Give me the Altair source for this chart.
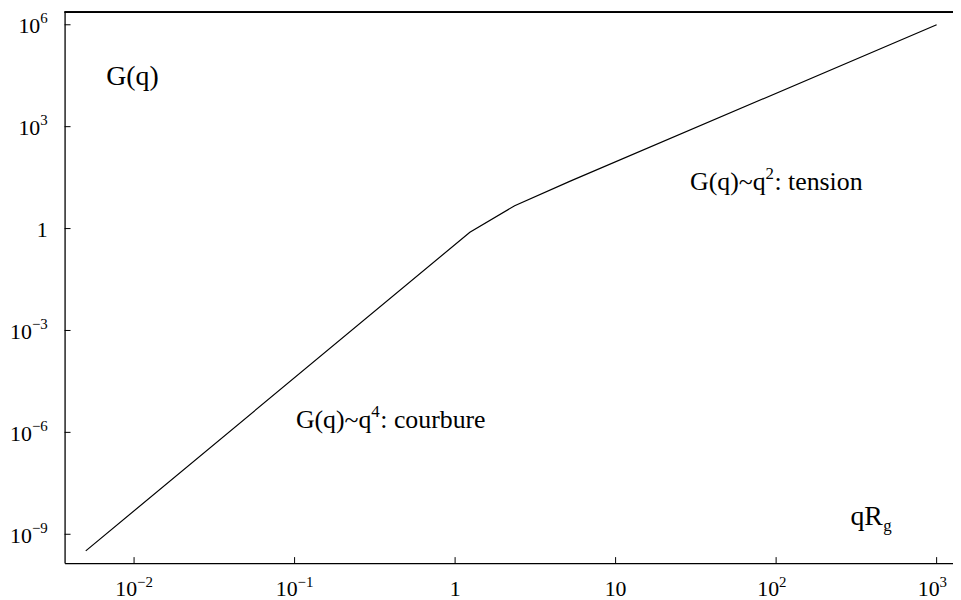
import altair as alt
import pandas as pd

# ---- data ----
q_vals = [0.005, 1.236, 2.35, 5.26, 1000.0]
G_vals = [3.24e-10, 0.78, 4.7, 25.3, 1.0e6]

x_ticks = [0.01, 0.1, 1, 10, 100, 1000]
x_tick_base = ["10", "10", "1", "10", "10", "10"]
x_tick_exp = ["−2", "−1", "", "", "2", "3"]

y_ticks = [1e6, 1e3, 1, 1e-3, 1e-6, 1e-9]
y_tick_base = ["10", "10", "1", "10", "10", "10"]
y_tick_exp = ["6", "3", "", "−3", "−6", "−9"]

label_q = [0.00671, 29.1, 0.1019, 290.6]
label_G = [17260.0, 13.8, 1.336e-6, 1.83e-9]
label_main = ["G(q)", "G(q)~q", "G(q)~q", "qR"]
label_sup = ["", "2", "4", ""]
label_rest = ["", ": tension", ": courbure", ""]
label_sub = ["", "", "", "g"]
label_size = [28, 26, 26, 28]

# ---- layout ----
W, H = 895, 555
FONT = "Liberation Serif"
xs = alt.Scale(type="log", domain=[0.003690, 1264.7], nice=False)
ys = alt.Scale(type="log", domain=[1.419e-10, 2.350e6], nice=False)
ax = alt.Axis(labels=False, ticks=False, grid=False, domain=True,
              domainColor="black", domainWidth=1.3, title=None)


def X(f="x"):
    return alt.X(f + ":Q", scale=xs, axis=ax)


def Y(f="y"):
    return alt.Y(f + ":Q", scale=ys, axis=ax)


curve = pd.DataFrame({"x": q_vals, "y": G_vals})
xt = pd.DataFrame({"x": x_ticks, "base": x_tick_base, "exp": x_tick_exp})
yt = pd.DataFrame({"y": y_ticks, "base": y_tick_base, "exp": y_tick_exp})
lab = pd.DataFrame({"x": label_q, "y": label_G, "main": label_main,
                    "sup": label_sup, "rest": label_rest, "sub": label_sub,
                    "fs": label_size})

line = alt.Chart(curve).mark_line(color="black", strokeWidth=1.2).encode(x=X(), y=Y())

xtick_marks = alt.Chart(xt).mark_rule(color="black", strokeWidth=1).encode(
    x=X(), y=alt.value(H), y2=alt.value(H - 6))
ytick_marks = alt.Chart(yt).mark_rule(color="black", strokeWidth=1).encode(
    y=Y(), x=alt.value(0), x2=alt.value(6))
top_border = alt.Chart(curve).mark_rule(color="black", strokeWidth=1.3).encode(
    x=alt.value(0), x2=alt.value(W), y=alt.value(0))

BASE_FS = 22
EXP_FS = 15

# x tick labels
xt_plain = xt[xt["exp"] == ""]
xt_exp = xt[xt["exp"] != ""]
xl_plain = alt.Chart(xt_plain).mark_text(font=FONT, fontSize=BASE_FS, align="center",
                                         baseline="alphabetic", color="black").encode(
    x=X(), y=alt.value(H + 33), text="base:N")
xl_base = alt.Chart(xt_exp).mark_text(font=FONT, fontSize=BASE_FS, align="right", dx=3,
                                      baseline="alphabetic", color="black").encode(
    x=X(), y=alt.value(H + 33), text="base:N")
xl_exp = alt.Chart(xt_exp).mark_text(font=FONT, fontSize=EXP_FS, align="left", dx=3,
                                     baseline="alphabetic", color="black").encode(
    x=X(), y=alt.value(H + 24), text="exp:N")

# y tick labels
yt_plain = yt[yt["exp"] == ""]
yt_pos = yt[(yt["exp"] != "") & (~yt["exp"].str.startswith("−"))]
yt_neg = yt[yt["exp"].str.startswith("−")]
yt_exp = yt[yt["exp"] != ""]
yl_plain = alt.Chart(yt_plain).mark_text(font=FONT, fontSize=BASE_FS, align="right", dx=-17, dy=8,
                                         baseline="alphabetic", color="black").encode(
    y=Y(), x=alt.value(0), text="base:N")
yl_pos = alt.Chart(yt_pos).mark_text(font=FONT, fontSize=BASE_FS, align="right", dx=-24.5, dy=8.5,
                                     baseline="alphabetic", color="black").encode(
    y=Y(), x=alt.value(0), text="base:N")
yl_neg = alt.Chart(yt_neg).mark_text(font=FONT, fontSize=BASE_FS, align="right", dx=-33, dy=8.5,
                                     baseline="alphabetic", color="black").encode(
    y=Y(), x=alt.value(0), text="base:N")
yl_exp = alt.Chart(yt_exp).mark_text(font=FONT, fontSize=EXP_FS, align="right", dx=-17, dy=-1.5,
                                     baseline="alphabetic", color="black").encode(
    y=Y(), x=alt.value(0), text="exp:N")

# annotations
a_main = alt.Chart(lab).mark_text(font=FONT, align="left", baseline="alphabetic",
                                  color="black").encode(
    x=X(), y=Y(), text="main:N", size=alt.Size("fs:Q", scale=None, legend=None))
a_sup = alt.Chart(lab[lab["sup"] != ""]).mark_text(font=FONT, fontSize=17, align="left",
                                                   dx=76, dy=-11, baseline="alphabetic",
                                                   color="black").encode(
    x=X(), y=Y(), text="sup:N")
a_rest = alt.Chart(lab[lab["rest"] != ""]).mark_text(font=FONT, fontSize=26, align="left",
                                                     dx=85, baseline="alphabetic",
                                                     color="black").encode(
    x=X(), y=Y(), text="rest:N")
a_sub = alt.Chart(lab[lab["sub"] != ""]).mark_text(font=FONT, fontSize=17, align="left",
                                                   dx=33, dy=6, baseline="alphabetic",
                                                   color="black").encode(
    x=X(), y=Y(), text="sub:N")

chart = alt.layer(
    line, xtick_marks, ytick_marks, top_border,
    xl_plain, xl_base, xl_exp,
    yl_plain, yl_pos, yl_neg, yl_exp,
    a_main, a_sup, a_rest, a_sub,
).properties(
    width=W, height=H,
    autosize=alt.AutoSizeParams(type="none"),
    padding={"left": 57, "top": 2, "right": 0, "bottom": 35},
    background="white",
).configure_view(stroke=None)

chart.save("out.html", embed_options={"renderer": "svg", "actions": False})
